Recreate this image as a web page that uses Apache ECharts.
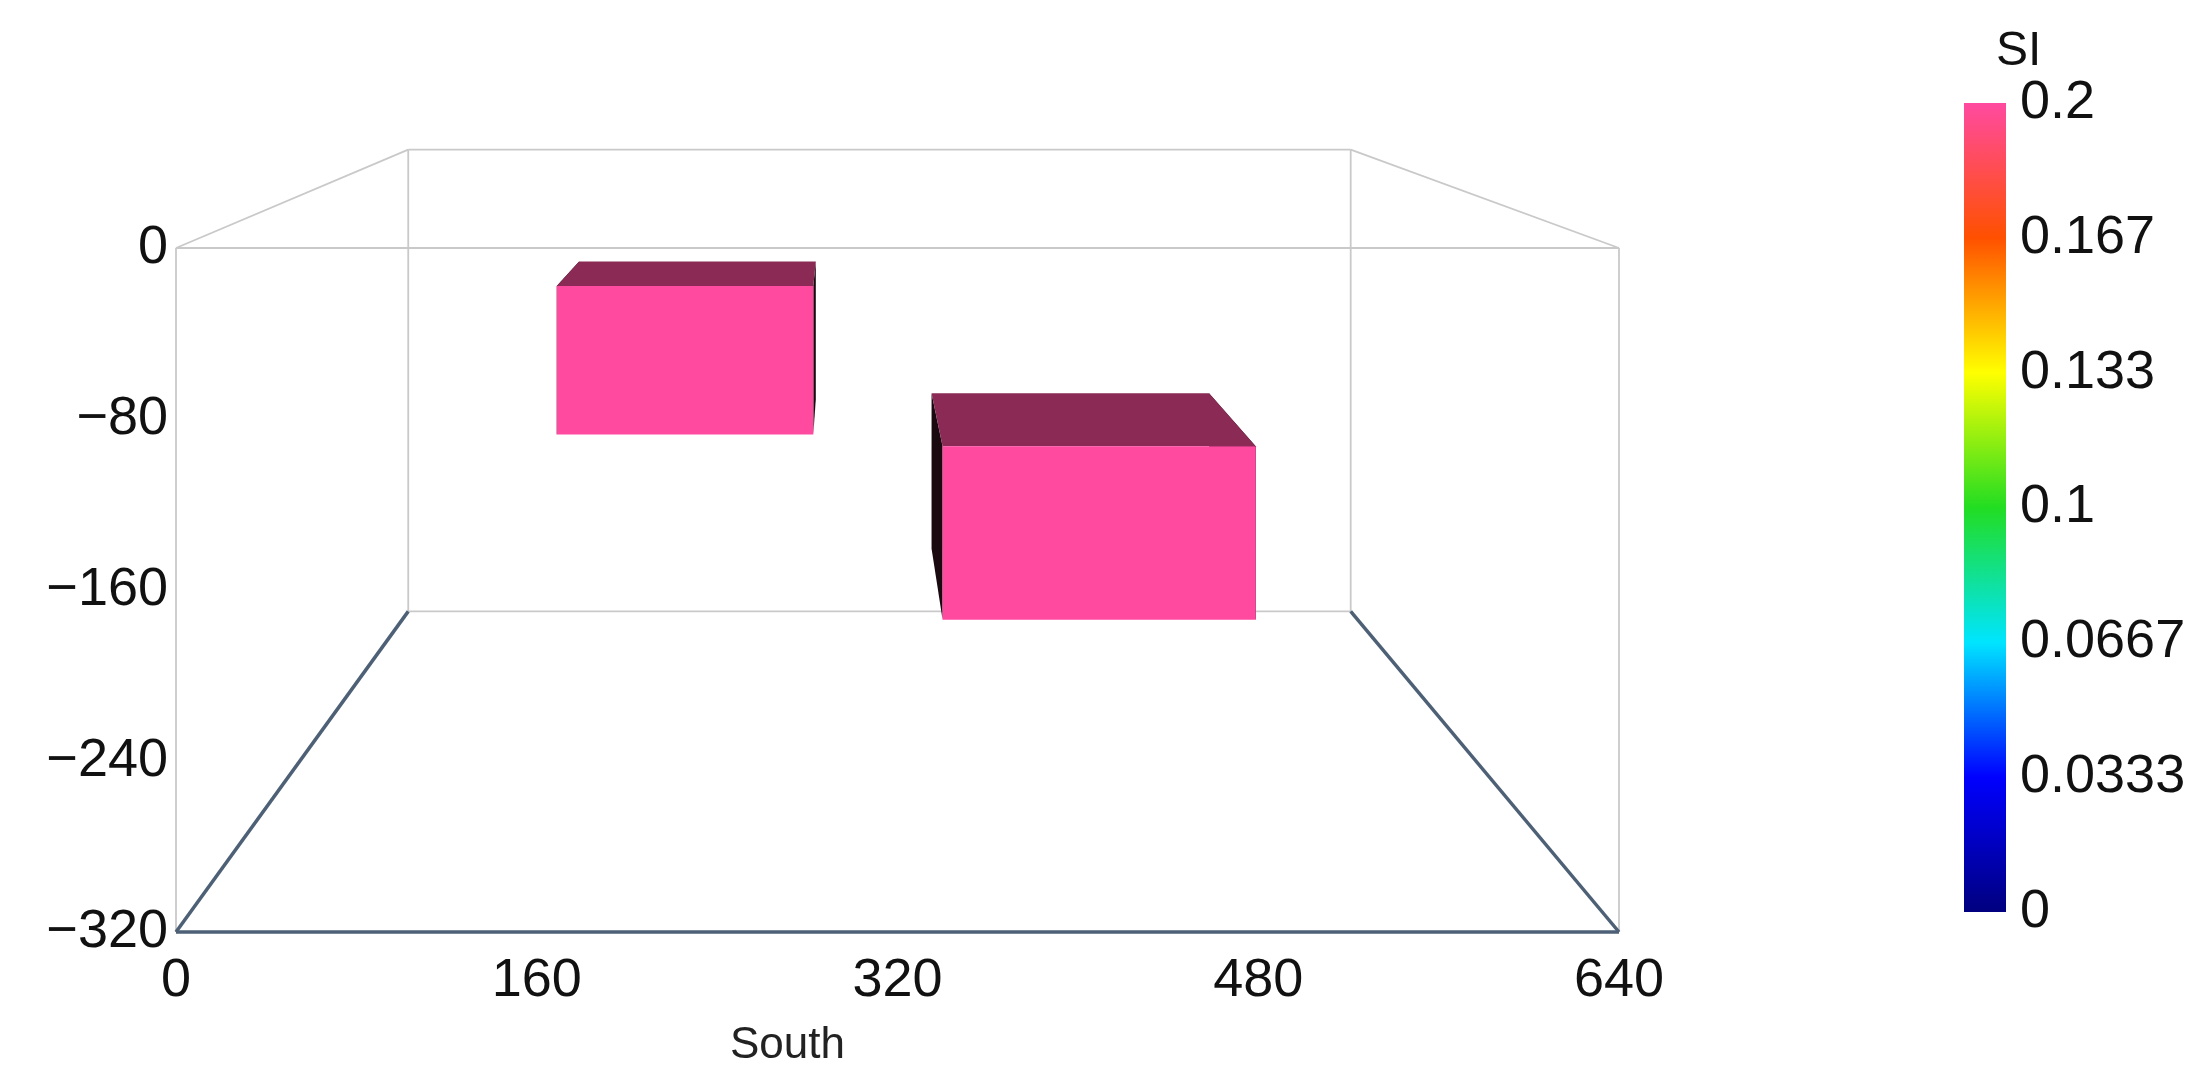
<!DOCTYPE html>
<html>
<head>
<meta charset="utf-8">
<script src="https://cdn.jsdelivr.net/npm/echarts@6/dist/echarts.min.js"></script>
<style>html,body{margin:0;background:#fff}#main{width:2208px;height:1073px}</style>
</head>
<body>
<div id="main"></div>
<script>
/* data */
var southTicks = [0, 160, 320, 480, 640];
var depthMax = 640;
var boxX = [[154, 281], [345, 500]];
var boxDepth = [[192, 320], [192, 380]];
var boxZ = [[-112, -35], [-208, -118]];
var boxSI = [0.2, 0.2];
var siLabels = ["0", "0.0333", "0.0667", "0.1", "0.133", "0.167", "0.2"];
var siColors = ["#00007f", "#0000ff", "#00e5ff", "#22dd22", "#ffff00", "#ff5000", "#ff4aa0"];

/* camera: back face as seen in front-face value space */
var back = { x0: 103, xs: 418 / 640, z0: 46, zs: 216 / 320 };

function proj(x, d, z) {
    var t = d / depthMax;
    var xb = back.x0 + x * back.xs, zb = back.z0 + z * back.zs;
    return [x * (1 - t) + xb * t, z * (1 - t) + zb * t];
}

/* frame edges: x1,d1,z1, x2,d2,z2, dark? */
var edges = [
    [0, 640, 0, 640, 640, 0, 0], [0, 640, -320, 640, 640, -320, 0],
    [0, 640, 0, 0, 640, -320, 0], [640, 640, 0, 640, 640, -320, 0],
    [0, 0, 0, 0, 640, 0, 0], [640, 0, 0, 640, 640, 0, 0],
    [0, 0, 0, 640, 0, 0, 0], [0, 0, 0, 0, 0, -320, 0], [640, 0, 0, 640, 0, -320, 0],
    [0, 0, -320, 640, 0, -320, 1], [0, 0, -320, 0, 640, -320, 1], [640, 0, -320, 640, 640, -320, 1]
];

var myChart = echarts.init(document.getElementById("main"));

function pt(api, x, d, z) { return api.coord(proj(x, d, z)); }

var option = {
    animation: false,
    textStyle: { fontFamily: "Liberation Sans" },
    grid: [
        { left: 176, right: 589, top: 248, bottom: 123 },
        { left: 1964, width: 42, top: 103, bottom: 161 }
    ],
    xAxis: [
        { gridIndex: 0, type: "value", min: 0, max: 640, interval: 160,
          axisLine: { show: false }, axisTick: { show: false }, splitLine: { show: false },
          axisLabel: { fontSize: 54, color: "#111", margin: 22 },
          name: "South", nameLocation: "middle", nameGap: 92,
          nameTextStyle: { fontSize: 44, color: "#222", padding: [0, 220, 0, 0] } },
        { gridIndex: 1, type: "category", data: [""], show: false }
    ],
    yAxis: [
        { gridIndex: 0, type: "value", min: -320, max: 0, interval: 80,
          axisLine: { show: false }, axisTick: { show: false }, splitLine: { show: false },
          axisLabel: { fontSize: 54, color: "#111", margin: 8,
                       formatter: function (v) { return String(v).replace("-", "\u2212"); } } },
        { gridIndex: 1, type: "value", min: 0, max: 0.2, interval: 0.2 / 6, position: "right",
          axisLine: { show: false }, axisTick: { show: false }, splitLine: { show: false },
          axisLabel: { fontSize: 54, color: "#111", margin: 14,
                       formatter: function (v) { return siLabels[Math.round(v / 0.2 * 6)]; } },
          name: "SI", nameLocation: "end", nameGap: 24,
          nameTextStyle: { fontSize: 48, color: "#111", align: "left", padding: [0, 0, 0, -10] } }
    ],
    series: [
        {
            type: "custom", xAxisIndex: 0, yAxisIndex: 0, silent: true, z: 1,
            data: edges,
            renderItem: function (params, api) {
                var e = edges[params.dataIndex];
                var a = pt(api, e[0], e[1], e[2]), b = pt(api, e[3], e[4], e[5]);
                return { type: "line", shape: { x1: a[0], y1: a[1], x2: b[0], y2: b[1] },
                         style: { stroke: e[6] ? "#4d6076" : "#c9c9c9", lineWidth: e[6] ? 3.5 : 1.8 } };
            }
        },
        {
            type: "custom", xAxisIndex: 0, yAxisIndex: 0, silent: true, z: 3,
            data: boxX.map(function (b, i) { return i; }),
            renderItem: function (params, api) {
                var i = params.dataIndex;
                var x = boxX[i], d = boxDepth[i], z = boxZ[i];
                var c = function (a, b, k) { return pt(api, x[a], d[b], z[k]); };
                var face = function (pts, fill) {
                    return { type: "polygon", shape: { points: pts }, style: { fill: fill } };
                };
                return { type: "group", children: [
                    face([c(0,0,0), c(0,1,0), c(0,1,1), c(0,0,1)], "#1a0a10"),
                    face([c(1,0,0), c(1,1,0), c(1,1,1), c(1,0,1)], "#1a0a10"),
                    face([c(0,0,1), c(1,0,1), c(1,1,1), c(0,1,1)], "#8a2a55"),
                    face([c(0,0,0), c(1,0,0), c(1,0,1), c(0,0,1)], siColors[6])
                ] };
            }
        },
        {
            type: "bar", xAxisIndex: 1, yAxisIndex: 1, barWidth: "100%", silent: true,
            data: [0.2],
            itemStyle: { color: new echarts.graphic.LinearGradient(0, 1, 0, 0,
                siColors.map(function (c, i) { return { offset: i / 6, color: c }; })) }
        }
    ]
};
myChart.setOption(option);
</script>
</body>
</html>
